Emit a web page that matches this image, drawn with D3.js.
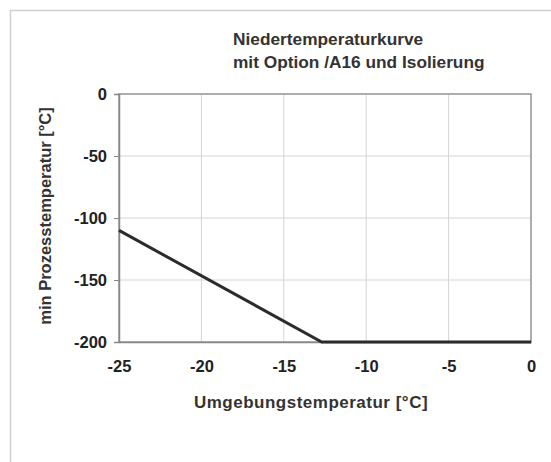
<!DOCTYPE html>
<html>
<head>
<meta charset="utf-8">
<script src="https://cdn.jsdelivr.net/npm/d3@7"></script>
<style>
  body { margin: 0; background: #fff; }
  text { font-family: "Liberation Sans", Arial, sans-serif; fill: #222; }
</style>
</head>
<body>
<svg id="chart" width="551" height="462"></svg>
<script>
// chart data
const curveX = [-25, -12.7, 0];
const curveY = [-110, -200, -200];
const xTicks = [-25, -20, -15, -10, -5, 0];
const yTicks = [0, -50, -100, -150, -200];
const titleLines = ['Niedertemperaturkurve', 'mit Option /A16 und Isolierung'];

const svg = d3.select('#chart');
const m = { left: 119, right: 531, top: 94, bottom: 342 };

const x = d3.scaleLinear().domain([-25, 0]).range([m.left, m.right]);
const y = d3.scaleLinear().domain([-200, 0]).range([m.bottom, m.top]);

// outer frame (only top and left edges visible)
svg.append('path')
  .attr('d', 'M10.5,551 V10.5 H551')
  .attr('fill', 'none')
  .attr('stroke', '#d0d0d0')
  .attr('stroke-width', 1.5);

// title
svg.append('g').selectAll('text')
  .data(titleLines)
  .join('text')
  .attr('x', 233)
  .attr('y', (d, i) => 45 + i * 23)
  .attr('font-size', 17.3)
  .attr('font-weight', 'bold')
  .style('fill', '#333')
  .text(d => d);

// grid lines
svg.append('g').selectAll('line.vx')
  .data(xTicks.slice(1))
  .join('line')
  .attr('x1', d => x(d)).attr('x2', d => x(d))
  .attr('y1', m.top).attr('y2', m.bottom)
  .attr('stroke', '#d4d4d4');

svg.append('g').selectAll('line.hy')
  .data(yTicks.slice(0, -1))
  .join('line')
  .attr('x1', m.left).attr('x2', m.right)
  .attr('y1', d => y(d)).attr('y2', d => y(d))
  .attr('stroke', '#d4d4d4');

// plot border
svg.append('rect')
  .attr('x', m.left).attr('y', m.top)
  .attr('width', m.right - m.left).attr('height', m.bottom - m.top)
  .attr('fill', 'none')
  .attr('stroke', '#999')
  .attr('stroke-width', 1.5);

// y axis
const yAxis = svg.append('g')
  .attr('transform', `translate(${m.left},0)`)
  .call(d3.axisLeft(y).tickValues(yTicks).tickFormat(d => String(d)).tickSize(5).tickPadding(7));
yAxis.select('.domain').attr('stroke', '#888').attr('stroke-width', 1.5);
yAxis.selectAll('.tick line').attr('stroke', '#888');
yAxis.selectAll('text')
  .attr('font-size', 16.5)
  .attr('font-weight', 'bold')
  .attr('font-family', '"Liberation Sans", Arial, sans-serif')
  .attr('fill', '#222');

// x axis
const xAxis = svg.append('g')
  .attr('transform', `translate(0,${m.bottom})`)
  .call(d3.axisBottom(x).tickValues(xTicks).tickFormat(d => String(d)).tickSize(0).tickPadding(18));
xAxis.select('.domain').attr('stroke', '#888').attr('stroke-width', 1.5);
xAxis.selectAll('text')
  .attr('font-size', 16.5)
  .attr('font-weight', 'bold')
  .attr('font-family', '"Liberation Sans", Arial, sans-serif')
  .attr('fill', '#222');

// axis titles
svg.append('text')
  .attr('x', 311).attr('y', 408)
  .attr('text-anchor', 'middle')
  .attr('font-size', 17)
  .attr('font-weight', 'bold')
  .attr('letter-spacing', 0.5)
  .style('fill', '#333')
  .text('Umgebungstemperatur [°C]');

svg.append('text')
  .attr('transform', 'translate(51,216) rotate(-90)')
  .attr('text-anchor', 'middle')
  .attr('font-size', 16.5)
  .attr('font-weight', 'bold')
  .style('fill', '#333')
  .text('min Prozesstemperatur [°C]');

// curve
const pts = curveX.map((d, i) => [d, curveY[i]]);
svg.append('path')
  .datum(pts)
  .attr('d', d3.line().x(d => x(d[0])).y(d => y(d[1])))
  .attr('fill', 'none')
  .attr('stroke', '#2b2b2b')
  .attr('stroke-width', 3);
</script>
</body>
</html>
